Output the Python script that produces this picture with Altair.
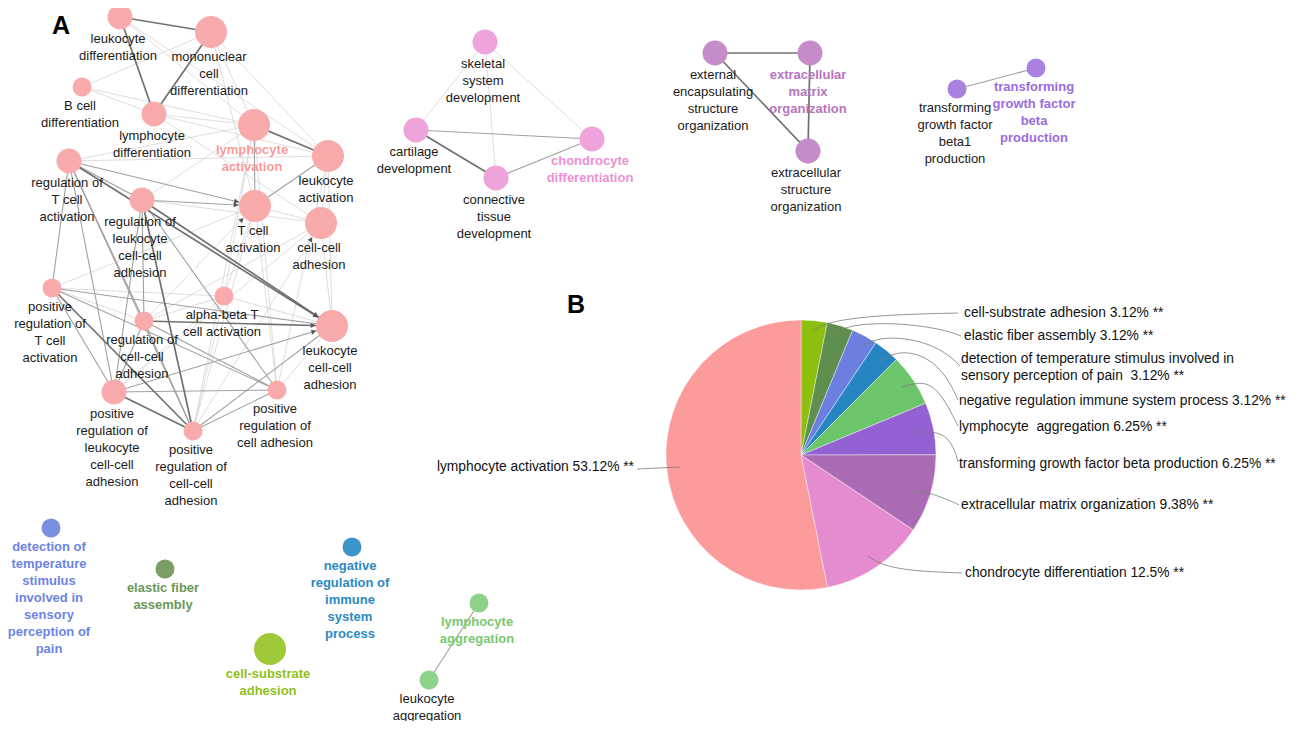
import math
import altair as alt
import numpy as np
import pandas as pd

# ---------------- Panel A : enrichment network ----------------
node_labels = [
    "leukocyte\ndifferentiation",
    "mononuclear\ncell\ndifferentiation",
    "B cell\ndifferentiation",
    "lymphocyte\ndifferentiation",
    "lymphocyte\nactivation",
    "leukocyte\nactivation",
    "regulation of\nT cell\nactivation",
    "regulation of\nleukocyte\ncell-cell\nadhesion",
    "T cell\nactivation",
    "cell-cell\nadhesion",
    "positive\nregulation of\nT cell\nactivation",
    "alpha-beta T\ncell activation",
    "regulation of\ncell-cell\nadhesion",
    "leukocyte\ncell-cell\nadhesion",
    "positive\nregulation of\nleukocyte\ncell-cell\nadhesion",
    "positive\nregulation of\ncell adhesion",
    "positive\nregulation of\ncell-cell\nadhesion",
    "skeletal\nsystem\ndevelopment",
    "cartilage\ndevelopment",
    "chondrocyte\ndifferentiation",
    "connective\ntissue\ndevelopment",
    "external\nencapsulating\nstructure\norganization",
    "extracellular\nmatrix\norganization",
    "extracellular\nstructure\norganization",
    "transforming\ngrowth factor\nbeta1\nproduction",
    "transforming\ngrowth factor\nbeta\nproduction",
    "detection of\ntemperature\nstimulus\ninvolved in\nsensory\nperception of\npain",
    "elastic fiber\nassembly",
    "negative\nregulation of\nimmune\nsystem\nprocess",
    "cell-substrate\nadhesion",
    "lymphocyte\naggregation",
    "leukocyte\naggregation",
]
node_x = [120, 211, 82, 154, 254, 328, 69, 142, 255, 321, 52, 224, 144, 332, 114, 277, 193,
          485, 416, 592, 496, 715, 810, 808, 957, 1036, 51, 165, 352, 270, 479, 429]
node_y = [17, 32, 87, 114, 125, 156, 161, 200, 206, 223, 288, 296, 321, 326, 392, 390, 431,
          42, 130, 139, 178, 53, 53, 151, 89, 68, 528, 569, 547, 649, 603, 680]
node_level = [2, 3, 1, 2, 3, 3, 2, 2, 3, 3, 1, 1, 1, 3, 2, 1, 1,
              2, 2, 2, 2, 2, 2, 2, 1, 1, 1, 1, 1, 3, 1, 1]
node_group = ["lymph"] * 17 + ["chondro"] * 4 + ["ecm"] * 3 + ["tgf"] * 2 + \
             ["detect", "elastic", "negreg", "substrate", "aggreg", "aggreg"]
rep_terms = [4, 19, 22, 25, 26, 27, 28, 29, 30]

edge_src = [0, 0, 1, 4, 6, 7, 12, 14, 10, 7, 18, 21, 21, 22,
            4, 6, 7, 6, 6, 6, 6, 6, 7, 7, 10, 10, 10, 12, 12, 12, 14, 14, 16, 16, 5, 7, 18, 20, 24, 30,
            1, 2, 0, 0, 1, 1, 1, 2, 3, 3, 3, 5, 8, 9, 5, 11, 11, 11, 11, 11, 11, 15, 15, 15, 16, 16, 16,
            7, 6, 6, 7, 12, 12, 14, 10, 10, 15, 17, 17, 17, 10]
edge_tgt = [1, 3, 3, 5, 13, 13, 13, 16, 16, 16, 20, 22, 23, 23,
            8, 8, 8, 7, 10, 14, 16, 12, 12, 14, 13, 15, 14, 16, 14, 15, 13, 15, 15, 13, 8, 15, 19, 19, 25, 31,
            2, 3, 4, 5, 4, 5, 8, 4, 4, 5, 9, 9, 9, 13, 13, 13, 16, 14, 8, 4, 12, 13, 8, 4, 8, 9, 4,
            9, 4, 5, 4, 8, 9, 9, 8, 11, 5, 18, 20, 19, 12]
edge_weight = [3] * 14 + [2] * 26 + [1] * 41

arrow_src = [6, 7, 12, 6, 7, 12, 14, 16]
arrow_tgt = [8, 8, 8, 13, 13, 13, 13, 9]

# ---------------- Panel B : pie of enriched terms ----------------
pie_terms = [
    "cell-substrate adhesion",
    "elastic fiber assembly",
    "detection of temperature stimulus",
    "negative regulation immune system process",
    "lymphocyte aggregation",
    "transforming growth factor beta production",
    "extracellular matrix organization",
    "chondrocyte differentiation",
    "lymphocyte activation",
]
pie_pct = [3.12, 3.12, 3.12, 3.12, 6.25, 6.25, 9.38, 12.5, 53.12]
pie_text = [
    "cell-substrate adhesion 3.12% **",
    "elastic fiber assembly 3.12% **",
    "detection of temperature stimulus involved in\nsensory perception of pain\u00a0 3.12% **",
    "negative regulation immune system process  3.12% **",
    "lymphocyte\u00a0 aggregation 6.25% **",
    "transforming growth factor beta production 6.25% **",
    "extracellular matrix organization 9.38% **",
    "chondrocyte differentiation 12.5% **",
    "lymphocyte activation 53.12% **",
]

# ---------------- layout (reference pixel frame) & styles ----------------
PIE_CENTER = (801, 455)
PIE_RADIUS = 135
pie_label_x = [964, 964, 961, 959, 959, 959, 961, 965, 634]
pie_label_y = [313, 336, 359, 401, 427, 464, 505, 573, 467]
leader_pts = [
    [(813, 331), (826, 322), (877, 315), (958, 313)],
    [(837, 332), (851, 325), (885, 323), (915, 325), (945, 330), (961, 336)],
    [(860, 347), (875, 339), (898, 337), (928, 343), (949, 355), (960, 366)],
    [(879, 361), (894, 353), (911, 352), (932, 360), (949, 380), (958, 400)],
    [(902, 387), (919, 382), (932, 385), (945, 400), (958, 426)],
    [(922, 432), (936, 432), (947, 437), (955, 450), (958, 462)],
    [(917, 490), (936, 495), (953, 502), (959, 505)],
    [(868, 556), (881, 565), (911, 571), (962, 573)],
    [(680, 467), (658, 468), (637, 469)],
]

RADIUS = {1: 9.5, 2: 12.5, 3: 16.0}
NODE_FILL = {"lymph": "#f9abab", "chondro": "#eea4da", "ecm": "#c68cc9", "tgf": "#aa80e0",
             "detect": "#7b8fe2", "elastic": "#7a9e63", "negreg": "#3b95c9",
             "substrate": "#a0c93a", "aggreg": "#8ed389"}
LABEL_COLOR = {"lymph": "#f79b9b", "chondro": "#eb90d3", "ecm": "#b574be", "tgf": "#9c6bdb",
               "detect": "#6d84e3", "elastic": "#6a9757", "negreg": "#2a89c3",
               "substrate": "#8fbf1c", "aggreg": "#79c970"}
PIE_FILL = ["#8dbf0e", "#5f8f4e", "#6a7fe0", "#2485c1", "#6cc46b", "#9461d3",
            "#a96cb3", "#e58bd0", "#fb9b9b"]
EDGE_COLOR = {1: "#d6d6d6", 2: "#a0a0a0", 3: "#707070"}
EDGE_WIDTH = {1: 0.8, 2: 1.1, 3: 1.7}
FONT = "Liberation Sans"

W, H, M = 1283, 713, 8
xs = alt.Scale(domain=[M, M + W], nice=False, zero=False)
ys = alt.Scale(domain=[M, M + H], nice=False, zero=False, reverse=True)

# ---------------- tables ----------------
nodes = pd.DataFrame(dict(label=node_labels, x=node_x, y=node_y, level=node_level, group=node_group))
nodes["r"] = nodes["level"].map(RADIUS)
nodes["size"] = (2 * nodes["r"]) ** 2
nodes["fill"] = nodes["group"].map(NODE_FILL)
nodes["rep"] = [i in rep_terms for i in range(len(nodes))]
nodes["lx"] = nodes["x"] - 2
nodes["ly"] = nodes["y"] + nodes["r"] + 3
nodes["lcolor"] = np.where(nodes["rep"], nodes["group"].map(LABEL_COLOR), "#1a1a1a")

edges = pd.DataFrame(dict(s=edge_src, t=edge_tgt, w=edge_weight))
edges["x"] = edges["s"].map(nodes["x"])
edges["y"] = edges["s"].map(nodes["y"])
edges["x2"] = edges["t"].map(nodes["x"])
edges["y2"] = edges["t"].map(nodes["y"])
edges["col"] = edges["w"].map(EDGE_COLOR)
edges["sw"] = edges["w"].map(EDGE_WIDTH)
edges = edges.sort_values("w").reset_index(drop=True)
edges["z"] = range(len(edges))

arrows = []
for s, t in zip(arrow_src, arrow_tgt):
    x1, y1, x2, y2 = node_x[s], node_y[s], node_x[t], node_y[t]
    ang = math.atan2(y2 - y1, x2 - x1)
    d = RADIUS[node_level[t]] + 3
    arrows.append(dict(x=x2 - d * math.cos(ang), y=y2 - d * math.sin(ang),
                       a=math.degrees(ang) % 360))
arrows = pd.DataFrame(arrows)

pie = pd.DataFrame(dict(term=pie_terms, pct=pie_pct, idx=range(len(pie_terms)), fill=PIE_FILL))
pie["cx"] = PIE_CENTER[0]
pie["cy"] = PIE_CENTER[1]

plab = pd.DataFrame(dict(text=pie_text, x=pie_label_x, y=pie_label_y))
plab["side"] = ["right"] * 8 + ["left"]

lead = pd.DataFrame([dict(id=i, k=k, x=p[0], y=p[1])
                     for i, pts in enumerate(leader_pts) for k, p in enumerate(pts)])

panels = pd.DataFrame(dict(t=["A", "B"], x=[61, 576], y=[26, 305]))

# ---------------- layers ----------------
edge_layer = alt.Chart(edges).mark_rule().encode(
    x=alt.X("x:Q", scale=xs, axis=None), y=alt.Y("y:Q", scale=ys, axis=None),
    x2="x2:Q", y2="y2:Q",
    color=alt.Color("col:N", scale=None),
    strokeWidth=alt.StrokeWidth("sw:Q", scale=None),
    order=alt.Order("z:Q"))

arrow_layer = alt.Chart(arrows).mark_point(shape="triangle-right", filled=True, opacity=1,
                                           color="#555555", size=28).encode(
    x=alt.X("x:Q", scale=xs, axis=None), y=alt.Y("y:Q", scale=ys, axis=None),
    angle=alt.Angle("a:Q", scale=None))

node_layer = alt.Chart(nodes).mark_point(shape="circle", filled=True, opacity=1, strokeWidth=0).encode(
    x=alt.X("x:Q", scale=xs, axis=None), y=alt.Y("y:Q", scale=ys, axis=None),
    size=alt.Size("size:Q", scale=None),
    color=alt.Color("fill:N", scale=None))

label_plain = alt.Chart(nodes).transform_filter("!datum.rep").mark_text(
    font=FONT, fontSize=13, lineHeight=17, lineBreak="\n", align="center", baseline="top").encode(
    x=alt.X("lx:Q", scale=xs, axis=None), y=alt.Y("ly:Q", scale=ys, axis=None),
    text="label:N", color=alt.Color("lcolor:N", scale=None))

label_rep = alt.Chart(nodes).transform_filter("datum.rep").mark_text(
    font=FONT, fontSize=13, fontWeight="bold", lineHeight=17, lineBreak="\n",
    align="center", baseline="top").encode(
    x=alt.X("lx:Q", scale=xs, axis=None), y=alt.Y("ly:Q", scale=ys, axis=None),
    text="label:N", color=alt.Color("lcolor:N", scale=None))

arc_layer = alt.Chart(pie).mark_arc(outerRadius=PIE_RADIUS, stroke="#ffffff", strokeWidth=0.4).encode(
    theta=alt.Theta("pct:Q", stack=True),
    order=alt.Order("idx:Q"),
    color=alt.Color("fill:N", scale=None),
    x=alt.X("cx:Q", scale=xs, axis=None), y=alt.Y("cy:Q", scale=ys, axis=None))

lead_layer = alt.Chart(lead).mark_line(interpolate="basis", color="#7a7a7a", strokeWidth=0.8).encode(
    x=alt.X("x:Q", scale=xs, axis=None), y=alt.Y("y:Q", scale=ys, axis=None),
    detail="id:N", order="k:Q")

plab_right = alt.Chart(plab).transform_filter("datum.side == 'right'").mark_text(
    font=FONT, fontSize=13.8, lineHeight=17, lineBreak="\n", align="left", baseline="middle",
    color="#111111").encode(
    x=alt.X("x:Q", scale=xs, axis=None), y=alt.Y("y:Q", scale=ys, axis=None), text="text:N")

plab_left = alt.Chart(plab).transform_filter("datum.side == 'left'").mark_text(
    font=FONT, fontSize=13.8, align="right", baseline="middle", color="#111111").encode(
    x=alt.X("x:Q", scale=xs, axis=None), y=alt.Y("y:Q", scale=ys, axis=None), text="text:N")

panel_layer = alt.Chart(panels).mark_text(font=FONT, fontSize=25, fontWeight="bold",
                                          align="center", baseline="middle", color="#000000").encode(
    x=alt.X("x:Q", scale=xs, axis=None), y=alt.Y("y:Q", scale=ys, axis=None), text="t:N")

chart = alt.layer(edge_layer, arrow_layer, node_layer, label_plain, label_rep,
                  arc_layer, lead_layer, plab_right, plab_left, panel_layer).properties(
    width=W, height=H, padding=0, autosize=alt.AutoSizeParams(type="none"),
    background="#ffffff").configure_view(stroke=None)

chart.save("out.html", embed_options={"renderer": "svg", "actions": False})
